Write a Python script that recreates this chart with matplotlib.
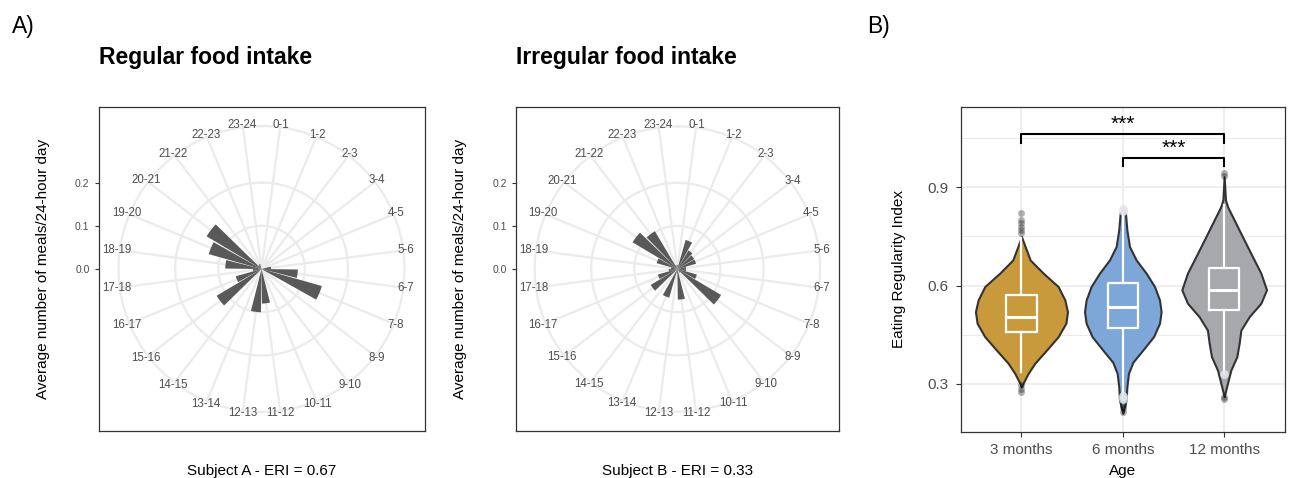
import numpy as np
import matplotlib
matplotlib.use("Agg")
import matplotlib.pyplot as plt

plt.rcParams['font.family'] = ['Liberation Sans', 'DejaVu Sans']

# ---- panel A data: average meals per hour bin
hour_labels = [f"{h}-{h + 1}" for h in range(24)]
regular_meals = [0, 0, 0, 0, 0, 0.022, 0.084, 0.145, 0, 0, 0, 0.080,
                 0.100, 0, 0, 0.121, 0.062, 0.020, 0.084, 0.127, 0.148, 0.010, 0.012, 0]
irregular_meals = [0.010, 0.070, 0.050, 0.045, 0.045, 0.020, 0.020, 0.047, 0.118, 0.010, 0, 0.071,
                   0.010, 0.069, 0, 0.072, 0.047, 0.020, 0.015, 0.050, 0.121, 0.102, 0.010, 0]

# ---- panel B data: violin outlines (ERI value, half width)
age_groups = ["3 months", "6 months", "12 months"]
violin_colors = ["#C99A3B", "#7DA7D9", "#A6A8AC"]

eri_3m = [0.749, 0.719, 0.678, 0.638, 0.597, 0.556, 0.520, 0.485, 0.444, 0.403, 0.363, 0.332, 0.302, 0.291]
hw_3m = [0.0, 0.036, 0.086, 0.214, 0.362, 0.428, 0.454, 0.438, 0.362, 0.247, 0.132, 0.066, 0.016, 0.0]

eri_6m = [0.836, 0.821, 0.770, 0.719, 0.678, 0.638, 0.597, 0.556, 0.520, 0.485, 0.444, 0.403, 0.366,
          0.332, 0.291, 0.251, 0.210]
hw_6m = [0.0, 0.026, 0.040, 0.066, 0.132, 0.230, 0.313, 0.362, 0.378, 0.362, 0.303, 0.197, 0.099,
         0.056, 0.040, 0.033, 0.0]

eri_12m = [0.932, 0.861, 0.841, 0.790, 0.739, 0.688, 0.638, 0.587, 0.546, 0.505, 0.464, 0.424, 0.383,
           0.342, 0.302, 0.261]
hw_12m = [0.0, 0.013, 0.033, 0.115, 0.197, 0.280, 0.362, 0.418, 0.362, 0.247, 0.165, 0.148, 0.125,
          0.066, 0.033, 0.0]

q1 = [0.459, 0.470, 0.525]
median = [0.505, 0.536, 0.587]
q3 = [0.571, 0.607, 0.653]
whisker_lo = [0.337, 0.265, 0.330]
whisker_hi = [0.745, 0.820, 0.845]
outliers = [[0.82, 0.80, 0.79, 0.78, 0.77, 0.76, 0.295, 0.285, 0.275],
            [0.235, 0.225, 0.215],
            [0.945, 0.935, 0.26, 0.255]]
light_points = [[], [0.835, 0.828, 0.262, 0.255], [0.33]]

fig = plt.figure(figsize=(12.9, 4.78), dpi=100)

GRID = '#EBEBEB'
TXT = '#4D4D4D'


def rose(rect, values, title, xlabel):
    axb = fig.add_axes(rect)
    axb.set_xlim(-0.375, 0.375)
    axb.set_ylim(-0.375, 0.375)
    axb.set_xticks([])
    axb.set_yticks([0, 0.1, 0.2])
    axb.set_yticklabels(['0.0', '0.1', '0.2'])
    axb.tick_params(axis='y', labelsize=7.5, labelcolor=TXT, color='#333333', length=3, width=0.8)
    for s in axb.spines.values():
        s.set_color('#333333')
        s.set_linewidth(0.9)
    axb.set_ylabel('Average number of meals/24-hour day', fontsize=11, labelpad=18)
    axb.set_title(title, loc='left', fontsize=16.5, fontweight='bold', pad=31)

    axp = fig.add_axes(rect, projection='polar')
    axp.set_facecolor('none')
    axp.set_theta_zero_location('N')
    axp.set_theta_direction(-1)
    axp.set_ylim(0, 0.375)
    axp.grid(False)
    axp.set_xticks([])
    axp.set_yticks([])
    axp.spines['polar'].set_visible(False)

    theta = (np.arange(24) + 0.5) * 2 * np.pi / 24
    for t in theta:
        axp.plot([t, t], [0, 0.331], color=GRID, lw=1.6, zorder=1)
    circ = np.linspace(0, 2 * np.pi, 361)
    for r in [0.1, 0.2, 0.331]:
        axp.plot(circ, np.full_like(circ, r), color=GRID, lw=1.6, zorder=1)
    axp.bar(theta, values, width=0.9 * 2 * np.pi / 24, color='#595959', zorder=3)
    for t, lab in zip(theta, hour_labels):
        axp.text(t, 0.337, lab, ha='center', va='center', fontsize=8.3, color=TXT, clip_on=False)

    x0 = rect[0] + rect[2] / 2
    fig.text(x0, 0.015, xlabel, ha='center', va='center', fontsize=11)


rose([0.0764, 0.0983, 0.2527, 0.6778], regular_meals, 'Regular food intake', 'Subject A - ERI = 0.67')
rose([0.3998, 0.0983, 0.2506, 0.6778], irregular_meals, 'Irregular food intake', 'Subject B - ERI = 0.33')

# ---- panel B
axv = fig.add_axes([0.7447, 0.0969, 0.2514, 0.680])
axv.set_xlim(0.4, 3.6)
axv.set_ylim(0.154, 1.146)
axv.set_yticks([0.3, 0.6, 0.9])
axv.set_yticks([0.45, 0.75, 1.05], minor=True)
axv.set_xticks([1, 2, 3])
axv.set_xticklabels(age_groups)
axv.grid(which='major', color=GRID, lw=1.2)
axv.grid(which='minor', axis='y', color=GRID, lw=0.7)
axv.set_axisbelow(True)
axv.tick_params(which='major', labelsize=11, labelcolor=TXT, color='#333333', length=3.5, width=0.8, pad=5)
axv.tick_params(which='minor', length=0)
for s in axv.spines.values():
    s.set_color('#333333')
    s.set_linewidth(0.9)
axv.set_xlabel('Age', fontsize=11, labelpad=5)
axv.set_ylabel('Eating Regularity Index', fontsize=11, labelpad=16)

shapes = [(eri_3m, hw_3m), (eri_6m, hw_6m), (eri_12m, hw_12m)]
for i, ((ys, hws), col) in enumerate(zip(shapes, violin_colors)):
    pos = i + 1
    ys = np.array(ys)
    hws = np.array(hws)
    axv.fill_betweenx(ys, pos - hws, pos + hws, facecolor=col, edgecolor='#333333', lw=1.5, zorder=2)

stats = []
for i in range(3):
    stats.append({'med': median[i], 'q1': q1[i], 'q3': q3[i],
                  'whislo': whisker_lo[i], 'whishi': whisker_hi[i], 'fliers': outliers[i]})
axv.bxp(stats, positions=[1, 2, 3], widths=0.3, showcaps=False, manage_ticks=False,
        boxprops=dict(color='white', lw=1.6),
        whiskerprops=dict(color='white', lw=1.6),
        medianprops=dict(color='white', lw=2.2),
        flierprops=dict(marker='o', markerfacecolor='black', markeredgecolor='none',
                        alpha=0.3, markersize=5),
        zorder=3)
for i, pts in enumerate(light_points):
    if pts:
        axv.scatter([i + 1] * len(pts), pts, s=40, color='#E3E6EA', alpha=0.85, zorder=4, lw=0)

# significance brackets
axv.plot([1, 1, 3, 3], [1.034, 1.062, 1.062, 1.034], color='black', lw=1.5, zorder=5)
axv.plot([2, 2, 3, 3], [0.965, 0.989, 0.989, 0.965], color='black', lw=1.5, zorder=5)
axv.text(2, 1.092, '***', ha='center', va='center', fontsize=15)
axv.text(2.5, 1.019, '***', ha='center', va='center', fontsize=15)

fig.text(11.5 / 1290, 1 - 33.3 / 478, 'A)', fontsize=16.5, va='baseline')
fig.text(867 / 1290, 1 - 33.3 / 478, 'B)', fontsize=16.5, va='baseline')

fig.savefig('out.png', dpi=100)
